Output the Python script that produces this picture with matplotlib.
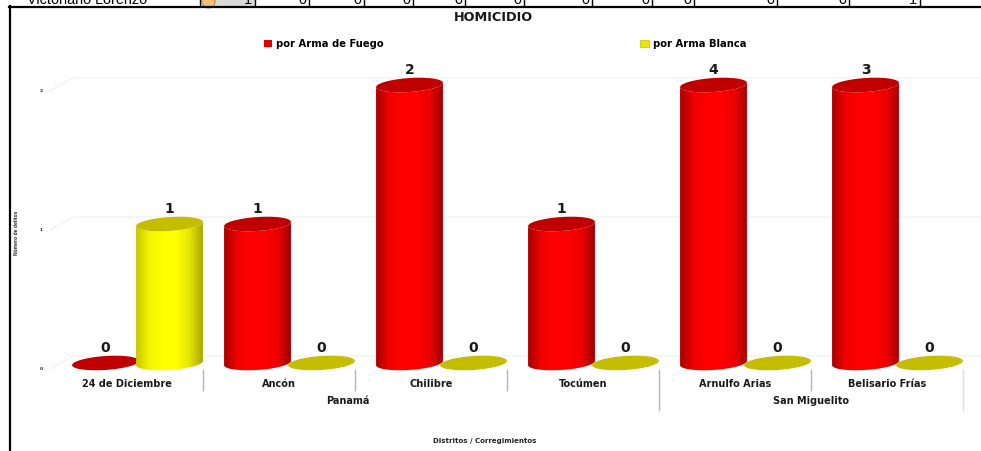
import matplotlib.pyplot as plt
import numpy as np
from matplotlib.colors import LinearSegmentedColormap
from matplotlib.patches import Patch, PathPatch, Polygon
from matplotlib.path import Path

# datos del grafico
categorias = ['24 de Diciembre', 'Ancón', 'Chilibre', 'Tocúmen', 'Arnulfo Arias', 'Belisario Frías']
arma_fuego = [0, 1, 2, 1, 4, 3]
arma_blanca = [1, 0, 0, 0, 0, 0]
grupos = ['Panamá', 'San Miguelito']
grupo_x = [1.45, 4.5]
grupo_fin = [4, 6]
y_ticks = [0, 1, 2]

# fila de la tabla que queda cortada arriba
fila_nombre = 'Victoriano Lorenzo'
fila_valores = [1, 0, 0, 0, 0, 0, 0, 0, 0, 0, 0, 1]
fila_bordes = [200, 255, 309, 364, 413, 465, 524, 592, 652, 694, 777, 849, 920]

W, H = 981, 451
fig = plt.figure(figsize=(W / 100, H / 100), dpi=100, facecolor='white')

# eje principal: 51-963 px en x, 363-85 px en y
x0, x1, y0, y1 = 51, 963, 363, 85
ax = fig.add_axes([x0 / W, 1 - y0 / H, (x1 - x0) / W, (y0 - y1) / H])
ax.set_xlim(-0.5, 5.5)
ax.set_ylim(0, 2)
for s in ax.spines.values():
    s.set_visible(False)
ax.patch.set_alpha(0)

px_x = (x1 - x0) / 6
px_y = (y0 - y1) / 2
ancho = 33.5   # semieje, px
alto = 7
ang = np.radians(3.5)

rojo = LinearSegmentedColormap.from_list('r', ['#a80000', '#f00000', '#ff0000', '#ff0000', '#ee0000', '#a00000'])
amarillo = LinearSegmentedColormap.from_list('a', ['#c8c800', '#f4f400', '#ffff00', '#ffff00', '#e6e600', '#a8a800'])


def elipse(cx, cy, t):
    x = ancho * np.cos(t) * np.cos(ang) + alto * np.sin(t) * np.sin(ang)
    y = ancho * np.cos(t) * np.sin(ang) + alto * np.sin(t) * np.cos(ang)
    return cx + x / px_x, cy + y / px_y


def cilindro(cx, valor, cmap, color_tapa):
    top = min(valor, 2)
    if top > 0:
        # contorno del cuerpo: mitad baja de la base y mitad baja de la tapa
        t1 = np.linspace(np.pi, 2 * np.pi, 40)
        bx, by = elipse(cx, 0, t1)
        tx, ty = elipse(cx, top, t1[::-1])
        cuerpo = PathPatch(Path(np.column_stack([np.concatenate([bx, tx]), np.concatenate([by, ty])])),
                           transform=ax.transData, fc='none', ec='none')
        ax.add_patch(cuerpo)
        grad = np.linspace(0, 1, 128).reshape(1, -1)
        w = ancho / px_x
        im = ax.imshow(grad, cmap=cmap, aspect='auto', extent=[cx - w, cx + w, -0.08, top + 0.08], zorder=2)
        im.set_clip_path(cuerpo)
        im.set_clip_box(fig.bbox)
    t = np.linspace(0, 2 * np.pi, 80)
    ex, ey = elipse(cx, top, t)
    ax.add_patch(Polygon(np.column_stack([ex, ey]), closed=True, fc=color_tapa, ec='none', zorder=2, clip_on=False))


sep = 32 / px_x
desp = 10.5 / px_x
for i in range(len(categorias)):
    cilindro(i + desp - sep, arma_fuego[i], rojo, '#c00000')
    ax.annotate(str(arma_fuego[i]), (i + desp - sep, min(arma_fuego[i], 2)), xytext=(0, 5.5), textcoords='offset points',
                ha='center', va='bottom', fontsize=10, fontweight='bold', color='#1a1a1a', zorder=5, annotation_clip=False)
    cilindro(i + desp + sep, arma_blanca[i], amarillo, '#c4bd00')
    ax.annotate(str(arma_blanca[i]), (i + desp + sep, min(arma_blanca[i], 2)), xytext=(0, 5.5), textcoords='offset points',
                ha='center', va='bottom', fontsize=10, fontweight='bold', color='#1a1a1a', zorder=5, annotation_clip=False)

ax.set_xlim(-0.5, 5.5)
ax.set_ylim(0, 2)

# lineas de la pared 3D, muy claras
for v in y_ticks:
    yb = v + 7 / px_y
    yf = v - 6 / px_y
    ax.plot([-0.5 - 1 / px_x, -0.5 + 22 / px_x, 5.5 + 18 / px_x], [yf, yb, yb], color='#efefef', lw=0.8, zorder=1, clip_on=False)
    ax.annotate(str(v), (-0.5, yf), xytext=(-7, 0), textcoords='offset points', ha='center', va='center',
                fontsize=3.2, fontweight='bold', color='#222222', annotation_clip=False)

# etiquetas de categoria y de grupo
ax.set_yticks([])
ax.set_xticks(range(len(categorias)))
ax.set_xticklabels(categorias, fontsize=7, fontweight='bold', color='#1a1a1a')
ax.tick_params(axis='x', length=0, pad=11.5)

for b in range(1, 7):
    es_grupo = b in grupo_fin
    ax.plot([b - 0.5, b - 0.5], [-7 / px_y, (-47 if es_grupo else -27) / px_y],
            color='#b5b5b5' if b != 6 else '#dddddd', lw=1, clip_on=False)
for g, gx in zip(grupos, grupo_x):
    ax.text(gx, -38.5 / px_y, g, ha='center', va='center', fontsize=7, fontweight='bold', color='#1a1a1a')

fig.text(485 / W, 1 - 441 / H, 'Distritos / Corregimientos', ha='center', va='center', fontsize=5, fontweight='bold', color='#222222')
fig.text(17 / W, 1 - 233 / H, 'Número de delitos', rotation=90, ha='center', va='center', fontsize=3.6,
         fontweight='bold', family='Liberation Sans', color='#222222')
fig.text(493 / W, 1 - 17.5 / H, 'HOMICIDIO', ha='center', va='center', fontsize=9.3, fontweight='bold', color='#1a1a1a')

handles = [Patch(fc='#e00000', ec='none', label='por Arma de Fuego'), Patch(fc='#e8e800', ec='#c0c000', lw=0.5, label='por Arma Blanca')]
fig.legend(handles=handles, ncol=2, loc='center', bbox_to_anchor=(505 / W, 1 - 44 / H), frameon=False,
           prop={'weight': 'bold', 'size': 7.2}, columnspacing=25.6, handlelength=0.85, handleheight=0.8, handletextpad=0.4)

# capa en pixeles para la tabla y el marco
capa = fig.add_axes([0, 0, 1, 1])
capa.set_xlim(0, W)
capa.set_ylim(H, 0)
capa.axis('off')
capa.patch.set_alpha(0)
capa.fill_between([fila_bordes[0], fila_bordes[1]], -1, 6, color='#d9d9d9', lw=0)
capa.scatter([208], [1], s=90, color='#f0c078', edgecolor='#a08050', lw=0.6, zorder=2)
capa.text(27, 4.5, fila_nombre, fontsize=10.4, family='Liberation Sans', va='baseline', ha='left', color='black', clip_on=True)
for b in fila_bordes:
    capa.plot([b, b], [0, 6], color='black', lw=1)
for b, v in zip(fila_bordes[1:], fila_valores):
    capa.text(b - 3, 4.5, str(v), fontsize=10.4, family='Liberation Sans', va='baseline', ha='right', color='black', clip_on=True)
capa.plot([9, W], [6.5, 6.5], color='black', lw=1.6)
capa.plot([9.5, 9.5], [6, H], color='black', lw=1.6)

fig.savefig('out.png', dpi=100)
